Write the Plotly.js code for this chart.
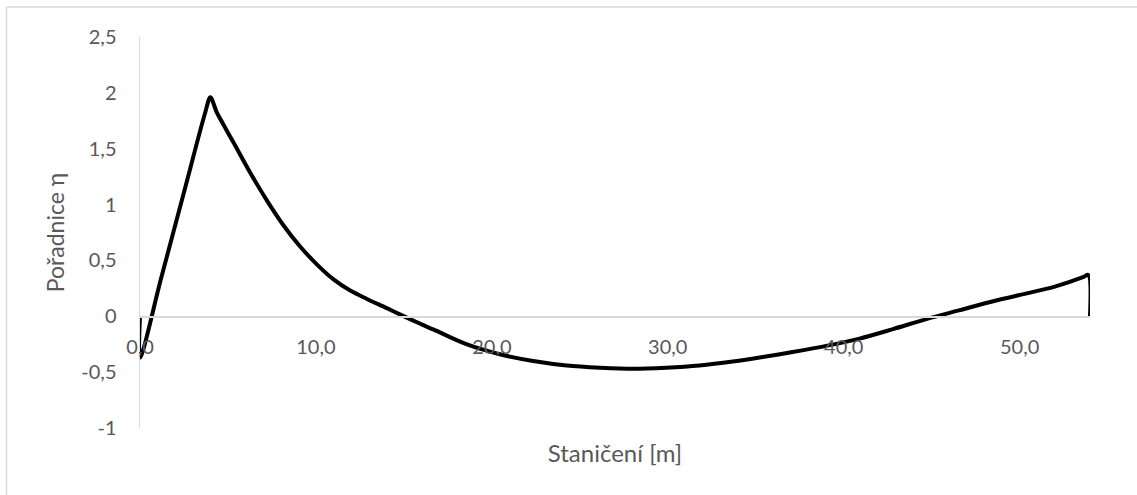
<!DOCTYPE html>
<html>
<head>
<meta charset="utf-8">
<script src="https://cdn.plot.ly/plotly-3.0.1.min.js"></script>
<style>
html,body{margin:0;padding:0;background:#fff;}
#chart{width:1137px;height:495px;}
</style>
</head>
<body>
<div id="chart"></div>
<script>
// Data
const stationing = [0, 0, 1.2, 2.5, 3.7, 4.0, 4.35, 4.55, 5.3, 6.25, 7.2, 8.15, 9.1, 10.05, 11.0, 11.95, 12.9, 14.0, 14.8, 15.9, 16.7, 18.55, 20.45, 22.35, 24.25, 26.15, 28.05, 29.9, 31.8, 33.7, 35.4, 37.1, 39.0, 40.9, 42.8, 44.7, 46.6, 48.5, 50.4, 52.0, 53.6, 53.9, 54.0];
const ordinate = [0, -0.37, 0.34, 1.11, 1.82, 1.96, 1.83, 1.77, 1.56, 1.29, 1.04, 0.815, 0.625, 0.465, 0.33, 0.23, 0.155, 0.075, 0.015, -0.065, -0.12, -0.25, -0.34, -0.40, -0.44, -0.46, -0.47, -0.46, -0.44, -0.405, -0.365, -0.32, -0.265, -0.20, -0.115, -0.025, 0.055, 0.135, 0.205, 0.265, 0.35, 0.37, 0];

const xTickVals = [0, 10, 20, 30, 40, 50];
const xTickText = ["0,0", "10,0", "20,0", "30,0", "40,0", "50,0"];
const yTickVals = [2.5, 2, 1.5, 1, 0.5, 0, -0.5, -1];
const yTickText = ["2,5", "2", "1,5", "1", "0,5", "0", "-0,5", "-1"];

const xRange = [0, 54];
const yRange = [-1, 2.5];

const W = 1137, H = 495;
const M = {l: 140, r: 47, t: 37, b: 67};
const pw = W - M.l - M.r, ph = H - M.t - M.b;
const fx = px => (px - M.l) / pw;
const fy = py => (H - M.b - py) / ph;

const FONT = "Lato, 'Open Sans', sans-serif";
const GREY = "#595959";

const trace = {
  x: stationing,
  y: ordinate,
  type: "scatter",
  mode: "lines",
  line: {color: "#000000", width: 4, shape: "spline", smoothing: 0.9},
  hoverinfo: "skip",
  showlegend: false
};

const layout = {
  width: W, height: H,
  margin: M,
  paper_bgcolor: "#ffffff",
  plot_bgcolor: "#ffffff",
  font: {family: FONT, color: GREY, size: 20},
  showlegend: false,
  xaxis: {
    range: xRange,
    anchor: "free",
    position: (0 - yRange[0]) / (yRange[1] - yRange[0]),
    tickvals: xTickVals,
    ticktext: xTickText,
    showgrid: false,
    zeroline: false,
    showline: true,
    linecolor: "#d9d9d9",
    linewidth: 1.5,
    ticks: "",
    ticklabelstandoff: 12,
    tickfont: {family: FONT, color: GREY, size: 20},
    title: {text: "Staničení [m]", font: {family: FONT, color: GREY, size: 24}, standoff: 88}
  },
  yaxis: {
    range: yRange,
    tickvals: yTickVals,
    ticktext: yTickText,
    showgrid: false,
    zeroline: false,
    showline: true,
    linecolor: "#d9d9d9",
    linewidth: 1.5,
    ticks: "",
    ticklabelstandoff: 18,
    tickfont: {family: FONT, color: GREY, size: 20},
    title: {text: "Pořadnice η", font: {family: FONT, color: GREY, size: 23}, standoff: 10}
  },
  shapes: [
    {type: "line", xref: "paper", yref: "paper", x0: fx(6.5), x1: fx(1145), y0: fy(7), y1: fy(7), line: {color: "#d9d9d9", width: 1.5}},
    {type: "line", xref: "paper", yref: "paper", x0: fx(6.5), x1: fx(6.5), y0: fy(7), y1: fy(500), line: {color: "#d9d9d9", width: 1.5}}
  ]
};

Plotly.newPlot("chart", [trace], layout, {staticPlot: true, displayModeBar: false});
</script>
</body>
</html>
